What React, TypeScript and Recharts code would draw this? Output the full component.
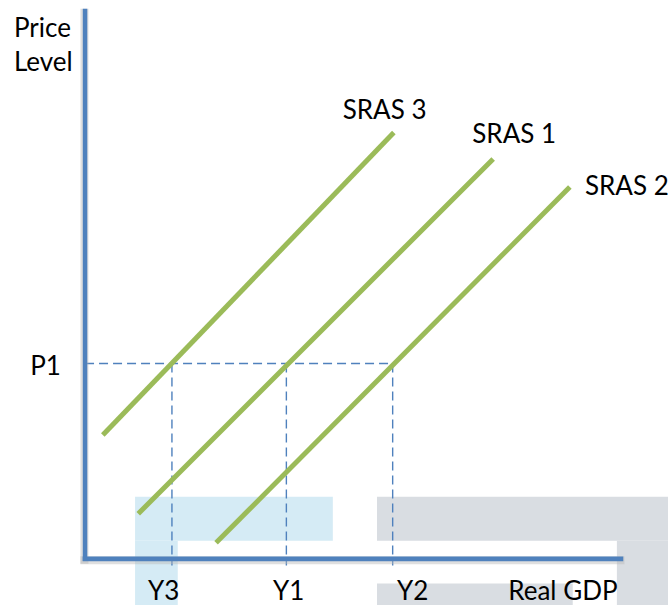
import React from 'react';
import {
  ComposedChart,
  XAxis,
  YAxis,
  Line,
  ReferenceLine,
  ReferenceArea,
  ReferenceDot,
} from 'recharts';

// Domains (abstract units; axis origin near 0,0)
const X_DOMAIN: [number, number] = [-15, 100];
const Y_DOMAIN: [number, number] = [-8.4, 101.6];

// Equilibrium values
const P1 = 35.5;
const Y3 = 14.6;
const Y1 = 34.3;
const Y2 = 52.6;

// Axis extents
const AXIS_X0 = -0.36;
const X_AXIS_END = 92.3;
const Y_AXIS_END = 100;

// SRAS curves
const sras3 = [
  { x: 2.7, y: 22.5 },
  { x: 52.8, y: 77.5 },
];
const sras1 = [
  { x: 8.8, y: 8.2 },
  { x: 69.9, y: 72.7 },
];
const sras2 = [
  { x: 22.2, y: 2.9 },
  { x: 83.1, y: 67.6 },
];

// Shaded background blocks (from the original slide)
const blueBlocks = [
  { x1: 8.25, x2: 42.3, y1: 3.3, y2: 11.3 },
  { x1: 8.25, x2: 15.6, y1: -8.4, y2: 3.3 },
];
const greyBlocks = [
  { x1: 49.9, x2: 100, y1: 3.3, y2: 11.3 },
  { x1: 91.2, x2: 100, y1: -8.4, y2: 3.3 },
  { x1: 49.9, x2: 83.6, y1: -8.4, y2: -4.5 },
];

// Text labels
const labels = [
  { text: 'Price', x: -12.6, y: 94.9 },
  { text: 'Level', x: -12.6, y: 88.7 },
  { text: 'P1', x: -9.8, y: 33.5 },
  { text: 'SRAS 3', x: 44.0, y: 80.0 },
  { text: 'SRAS 1', x: 66.3, y: 75.6 },
  { text: 'SRAS 2', x: 85.7, y: 66.2 },
  { text: 'Y3', x: 10.5, y: -7.45 },
  { text: 'Y1', x: 32.0, y: -7.45 },
  { text: 'Y2', x: 53.35, y: -7.45 },
  { text: 'Real GDP', x: 72.5, y: -7.45 },
];

const AXIS_BLUE = '#4f81bd';
const GREEN = '#9bbb59';
const FONT = 'Lato, "Open Sans", sans-serif';

export default function App() {
  return (
    <div style={{ position: 'absolute', left: 0, top: 0, background: '#fff' }}>
      <ComposedChart
        width={668}
        height={605}
        margin={{ top: 0, right: 0, bottom: 0, left: 0 }}
      >
        <XAxis type="number" dataKey="x" domain={X_DOMAIN} allowDataOverflow hide />
        <YAxis type="number" dataKey="y" domain={Y_DOMAIN} allowDataOverflow hide />

        {blueBlocks.map((b, i) => (
          <ReferenceArea
            key={'b' + i}
            x1={b.x1}
            x2={b.x2}
            y1={b.y1}
            y2={b.y2}
            fill="#d5ebf5"
            fillOpacity={1}
            stroke="none"
            ifOverflow="visible"
          />
        ))}
        {greyBlocks.map((b, i) => (
          <ReferenceArea
            key={'g' + i}
            x1={b.x1}
            x2={b.x2}
            y1={b.y1}
            y2={b.y2}
            fill="#d9dde2"
            fillOpacity={1}
            stroke="none"
            ifOverflow="visible"
          />
        ))}

        {/* dashed guides */}
        <ReferenceLine
          segment={[
            { x: AXIS_X0, y: P1 },
            { x: Y2, y: P1 },
          ]}
          stroke={AXIS_BLUE}
          strokeWidth={1.4}
          strokeDasharray="9 5"
          ifOverflow="visible"
        />
        {[Y3, Y1, Y2].map((v, i) => (
          <ReferenceLine
            key={'v' + i}
            segment={[
              { x: v, y: P1 },
              { x: v, y: -1.2 },
            ]}
            stroke={AXIS_BLUE}
            strokeWidth={1.4}
            strokeDasharray="9 5"
            ifOverflow="visible"
          />
        ))}

        {/* axis shadows */}
        <ReferenceLine
          segment={[
            { x: AXIS_X0 - 0.1, y: -0.9 },
            { x: AXIS_X0 - 0.1, y: Y_AXIS_END },
          ]}
          stroke="#b8b8b8"
          strokeOpacity={0.45}
          strokeWidth={8}
          ifOverflow="visible"
        />
        <ReferenceLine
          segment={[
            { x: AXIS_X0 - 0.8, y: -0.25 },
            { x: X_AXIS_END + 0.2, y: -0.25 },
          ]}
          stroke="#b8b8b8"
          strokeOpacity={0.45}
          strokeWidth={8}
          ifOverflow="visible"
        />

        {/* axes */}
        <ReferenceLine
          segment={[
            { x: AXIS_X0, y: -0.4 },
            { x: AXIS_X0, y: Y_AXIS_END },
          ]}
          stroke={AXIS_BLUE}
          strokeWidth={4.5}
          ifOverflow="visible"
        />
        <ReferenceLine
          segment={[
            { x: AXIS_X0 - 0.4, y: 0 },
            { x: X_AXIS_END, y: 0 },
          ]}
          stroke={AXIS_BLUE}
          strokeWidth={4.8}
          ifOverflow="visible"
        />

        <Line data={sras3} dataKey="y" stroke={GREEN} strokeWidth={5} dot={false} activeDot={false} isAnimationActive={false} />
        <Line data={sras1} dataKey="y" stroke={GREEN} strokeWidth={5} dot={false} activeDot={false} isAnimationActive={false} />
        <Line data={sras2} dataKey="y" stroke={GREEN} strokeWidth={5} dot={false} activeDot={false} isAnimationActive={false} />

        {labels.map((l, i) => (
          <ReferenceDot
            key={'l' + i}
            x={l.x}
            y={l.y}
            r={0}
            ifOverflow="visible"
            shape={(p: any) => (
              <text
                x={p.cx}
                y={p.cy}
                fill="#000"
                fontSize={26}
                fontFamily={FONT}
                textAnchor="start"
              >
                {l.text}
              </text>
            )}
          />
        ))}
      </ComposedChart>
    </div>
  );
}
